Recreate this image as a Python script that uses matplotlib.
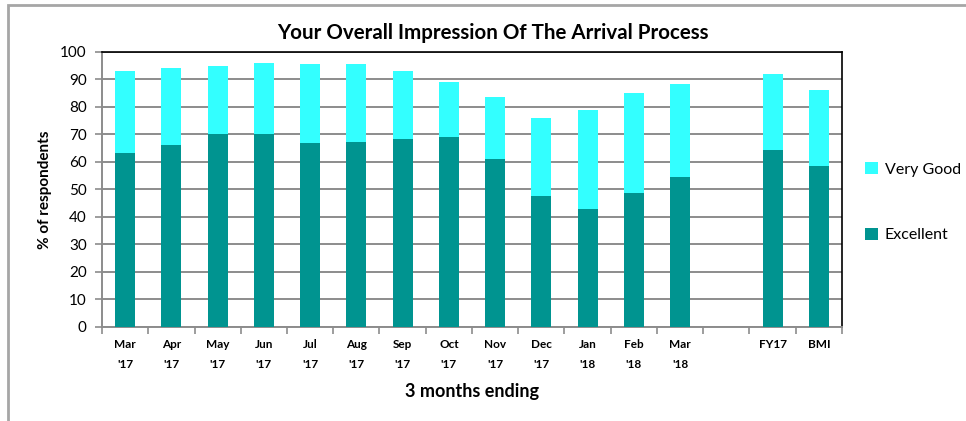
import numpy as np
import matplotlib.pyplot as plt
from matplotlib.patches import Rectangle

plt.rcParams['font.family'] = ['Lato', 'DejaVu Sans']

labels = ["Mar\n'17", "Apr\n'17", "May\n'17", "Jun\n'17", "Jul\n'17", "Aug\n'17",
          "Sep\n'17", "Oct\n'17", "Nov\n'17", "Dec\n'17", "Jan\n'18", "Feb\n'18",
          "Mar\n'18", "", "FY17", "BMI"]
excellent = [63.2, 66.1, 70.2, 70.2, 66.8, 67.4, 68.5, 69.1, 61.0, 47.5, 42.8, 48.6,
             54.5, np.nan, 64.4, 58.5]
total = [93.1, 94.3, 94.9, 96.1, 95.5, 95.5, 93.1, 89.0, 83.6, 76.1, 79.0, 85.0,
         88.5, np.nan, 92.0, 86.1]
very_good = [t - e for t, e in zip(total, excellent)]

teal = "#009490"
cyan = "#33FFFF"
grid_c = "#8c8c8c"

fig = plt.figure(figsize=(9.66, 4.21), dpi=100)
ax = fig.add_axes([0.1056, 0.2233, 0.7660, 0.6532])

x = np.arange(len(labels))
w = 0.43
ax.bar(x, excellent, w, color=teal, label="Excellent", zorder=3)
ax.bar(x, very_good, w, bottom=excellent, color=cyan, label="Very Good", zorder=3)

ax.set_xlim(-0.5, len(labels) - 0.5)
ax.set_ylim(0, 100)
ax.set_yticks(range(0, 101, 10))
ax.yaxis.grid(True, color=grid_c, linewidth=1.4, zorder=0)
ax.tick_params(axis='y', direction='out', length=5, color=grid_c, width=1.2,
               labelsize=11, pad=6)

ax.set_xticks(x)
ax.set_xticklabels(labels, fontsize=8.5, fontweight='bold', linespacing=1.95)
ax.set_xticks(np.arange(-0.5, len(labels)), minor=True)
ax.tick_params(axis='x', which='major', length=0, pad=9)
ax.tick_params(axis='x', which='minor', direction='out', length=5, color=grid_c, width=1.2)

for s in ['left', 'bottom']:
    ax.spines[s].set_color(grid_c)
    ax.spines[s].set_linewidth(1.4)
for s in ['top', 'right']:
    ax.spines[s].set_color('black')
    ax.spines[s].set_linewidth(1.2)

ax.set_ylabel("% of respondents", fontsize=11, fontweight='bold', labelpad=6)
ax.set_xlabel("3 months ending", fontsize=13, fontweight='bold', labelpad=9)
fig.text(0.510, 0.922, "Your Overall Impression Of The Arrival Process",
         ha='center', va='center', fontsize=14.8, fontweight='bold')

handles, lbls = ax.get_legend_handles_labels()
fig.legend(handles[::-1], lbls[::-1], loc='center left', bbox_to_anchor=(0.881, 0.52),
           frameon=False, fontsize=11.5, handlelength=0.8, handleheight=0.8,
           labelspacing=3.2, handletextpad=0.4)

fig.patches.append(Rectangle((8 / 966, -0.01), 1.0, 1 - 5 / 421 + 0.01, transform=fig.transFigure,
                             fill=False, edgecolor="#a6a6a6", linewidth=2))

fig.savefig("out.png", dpi=100)
